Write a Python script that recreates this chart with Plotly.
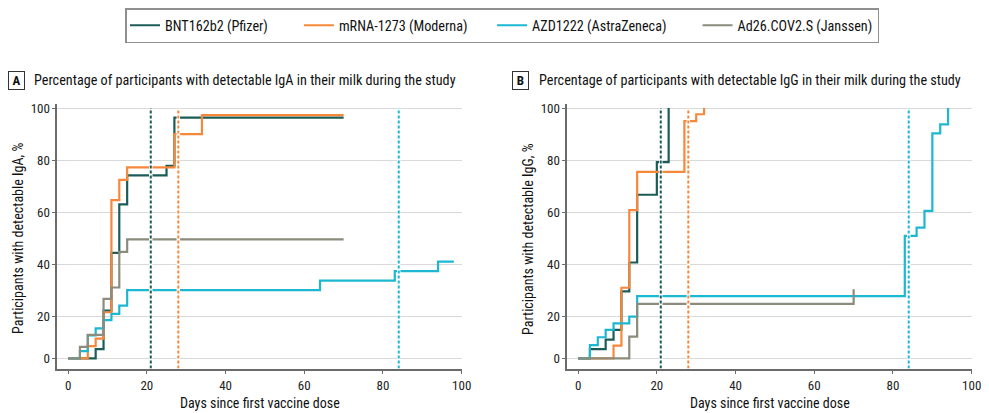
import numpy as np
import plotly.graph_objects as go

# ---------------- data ----------------
series_names = ["BNT162b2 (Pfizer)", "mRNA-1273 (Moderna)", "AZD1222 (AstraZeneca)", "Ad26.COV2.S (Janssen)"]
series_colors = ["#1b5c58", "#f7883a", "#1cb8d2", "#8b8c7c"]

# Panel A: IgA
iga_days_pfizer = [0, 7, 9, 11, 13, 15, 25, 27, 70]
iga_pct_pfizer = [0, 7.4, 22.2, 44.4, 63.0, 74.1, 77.8, 96.3, 96.3]
iga_days_moderna = [0, 5, 7, 9, 11, 13, 15, 27, 34, 70]
iga_pct_moderna = [0, 8.6, 11.5, 21.6, 64.6, 72.4, 77.2, 90.0, 97.3, 97.3]
iga_days_astra = [0, 3, 5, 7, 9, 11, 13, 15, 64, 83, 94, 98]
iga_pct_astra = [0, 6.7, 12.7, 15.4, 18.6, 21.0, 24.1, 30.1, 33.7, 37.4, 41.0, 41.0]
iga_days_janssen = [0, 3, 5, 9, 11, 13, 15, 70]
iga_pct_janssen = [0, 8.3, 12.9, 26.7, 31.1, 44.8, 49.6, 49.6]

# Panel B: IgG
igg_days_pfizer = [0, 3, 7, 9, 11, 13, 15, 20, 23]
igg_pct_pfizer = [0, 7.4, 11.1, 14.8, 29.6, 40.7, 66.7, 79.2, 100]
igg_days_moderna = [0, 9, 11, 13, 15, 27, 30, 32]
igg_pct_moderna = [0, 8.8, 31.0, 60.8, 75.5, 95.0, 97.6, 100]
igg_days_astra = [0, 3, 5, 7, 9, 13, 15, 83, 86, 88, 90, 92, 94]
igg_pct_astra = [0, 9.0, 12.0, 14.8, 17.3, 19.9, 27.8, 50.9, 54.1, 60.5, 90.3, 93.7, 100]
igg_days_janssen = [0, 13, 15, 70]
igg_pct_janssen = [0, 12.2, 24.8, 30.4]

# second-dose reference days (Pfizer, Moderna, AstraZeneca)
dose_days = [21, 28, 84]
dose_colors = ["#1b5c58", "#f7883a", "#1cb8d2"]

x_ticks = [0, 20, 40, 60, 80, 100]
y_tick_labels = ["0", "20", "40", "60", "80", "100"]
y_tick_values = [0, 20, 40, 60, 80, 100]

panel_titles = ["Percentage of participants with detectable IgA in their milk during the study",
                "Percentage of participants with detectable IgG in their milk during the study"]
panel_letters = ["A", "B"]
y_titles = ["Participants with detectable IgA, %", "Participants with detectable IgG, %"]
x_title = "Days since first vaccine dose"

# ---------------- styling ----------------
PAGE_OFF = 8          # default page body margin
W, H = 989 - PAGE_OFF, 413 - PAGE_OFF
FONT = "Roboto Condensed, Liberation Sans Narrow, Roboto, sans-serif"
ZERO_LEVEL = 3.9  # the reference draws its "0" baseline slightly above the axis line
LEGEND_PAD = [8, 6, 8, 0]  # trailing spacing after each legend label


def plot_y(v):
    v = np.asarray(v, dtype=float)
    return np.where(v == 0, ZERO_LEVEL, v)


def px_x(p):
    return (p - PAGE_OFF) / W


def px_y(p):
    return 1 - (p - PAGE_OFF) / H


fig = go.Figure()

panels = [
    ([iga_days_pfizer, iga_days_moderna, iga_days_astra, iga_days_janssen],
     [iga_pct_pfizer, iga_pct_moderna, iga_pct_astra, iga_pct_janssen]),
    ([igg_days_pfizer, igg_days_moderna, igg_days_astra, igg_days_janssen],
     [igg_pct_pfizer, igg_pct_moderna, igg_pct_astra, igg_pct_janssen]),
]

xdomains = [[px_x(57.3), px_x(461.7)], [px_x(567.3), px_x(971.7)]]
ydomain = [px_y(368.5), px_y(104.1)]

for pi, (days_list, pct_list) in enumerate(panels):
    xa = "x" if pi == 0 else "x2"
    ya = "y" if pi == 0 else "y2"
    for si in range(4):
        fig.add_trace(go.Scatter(
            x=days_list[si], y=plot_y(pct_list[si]), mode="lines",
            line=dict(color=series_colors[si], width=2.2, shape="hv"),
            name=series_names[si] + "\u00a0" * LEGEND_PAD[si], legendgroup=series_names[si],
            showlegend=(pi == 0), xaxis=xa, yaxis=ya, hoverinfo="skip"))
    for d, c in zip(dose_days, dose_colors):
        fig.add_shape(type="line", xref=xa, yref=ya, x0=d, x1=d, y0=0, y1=100,
                      line=dict(color="white", width=3.5), layer="above")
        fig.add_shape(type="line", xref=xa, yref=ya, x0=d, x1=d, y0=0, y1=100,
                      line=dict(color=c, width=2, dash="3px,2px"), layer="above")

axis_common = dict(
    showline=True, linecolor="#6b6b6b", linewidth=1.5,
    ticks="outside", ticklen=4, tickcolor="#6b6b6b", tickwidth=1.2,
    tickfont=dict(family=FONT, size=13, color="#222"),
    zeroline=False, automargin=False,
)

for pi in range(2):
    sfx = "" if pi == 0 else "2"
    fig.update_layout(**{
        "xaxis" + sfx: dict(domain=xdomains[pi], range=[-2.75, 100], tickvals=x_ticks,
                            showgrid=False, anchor="y" + sfx, ticklabelstandoff=0,
                            **axis_common),
        "yaxis" + sfx: dict(domain=ydomain, range=[0, 101.5],
                            tickvals=list(plot_y(y_tick_values)), ticktext=y_tick_labels,
                            showgrid=True, gridcolor="#d9d9d9", gridwidth=1.2,
                            anchor="x" + sfx, ticklabelstandoff=-1, **axis_common),
    })

annotations = []
letter_x = [16.5, 520.5]
title_x = [32, 537]
ytitle_x = [18, 528]
for pi in range(2):
    annotations.append(dict(
        text="<b>" + panel_letters[pi] + "</b>", x=px_x(letter_x[pi]), y=px_y(80),
        xref="paper", yref="paper", showarrow=False, xanchor="center", yanchor="middle",
        font=dict(family=FONT, size=13, color="#111"),
        bordercolor="#333", borderwidth=1, borderpad=2, width=11, height=13))
    annotations.append(dict(
        text=panel_titles[pi], x=px_x(title_x[pi]), y=px_y(80),
        xref="paper", yref="paper", showarrow=False, xanchor="left", yanchor="middle",
        font=dict(family=FONT, size=14.2, color="#111")))
    annotations.append(dict(
        text=y_titles[pi], x=px_x(ytitle_x[pi]), y=px_y(239),
        xref="paper", yref="paper", showarrow=False, xanchor="center", yanchor="middle",
        textangle=-90, font=dict(family=FONT, size=14, color="#111")))
    annotations.append(dict(
        text=x_title, x=(xdomains[pi][0] + xdomains[pi][1]) / 2, y=px_y(403),
        xref="paper", yref="paper", showarrow=False, xanchor="center", yanchor="middle",
        font=dict(family=FONT, size=14, color="#111")))

fig.update_layout(
    width=W, height=H,
    margin=dict(l=0, r=0, t=0, b=0, autoexpand=False),
    paper_bgcolor="white", plot_bgcolor="white",
    font=dict(family=FONT, size=13, color="#111"),
    annotations=annotations,
    legend=dict(orientation="h", x=px_x(125), xanchor="left", y=px_y(8), yanchor="top",
                xref="container", yref="container",
                bordercolor="#8f8f8f", borderwidth=1.5, bgcolor="white",
                font=dict(family=FONT, size=14.2, color="#111"),
                itemwidth=30, tracegroupgap=0),
    showlegend=True,
)

fig.write_html("out.html")
